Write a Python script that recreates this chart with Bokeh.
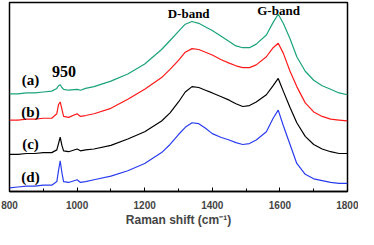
from bokeh.plotting import figure
from bokeh.models import FixedTicker, Range1d
from bokeh.core.properties import value
from bokeh.embed import file_html
from bokeh.resources import INLINE

# Raman shift (cm^-1)
shift = [800, 825, 850, 875, 900, 925, 940, 945, 950, 955, 960, 975, 1000, 1010,
         1025, 1050, 1100, 1150, 1200, 1250, 1275, 1300, 1320, 1340, 1360, 1380,
         1400, 1425, 1450, 1470, 1490, 1510, 1530, 1560, 1580, 1595, 1610, 1630,
         1650, 1675, 1700, 1725, 1750, 1775, 1800]

# intensities (arbitrary units, offset stacked)
spec_a = [108, 108, 109, 109, 110, 111, 114, 117, 118, 115, 113, 112, 113, 112,
          114, 116, 122, 130, 141, 157, 167, 177, 185, 188, 186, 182,
          178, 172, 166, 161, 159, 159, 163, 173, 187, 196, 186, 169,
          149, 133, 123, 117, 113, 109, 107]
spec_b = [79, 79, 80, 80, 81, 81, 86, 96, 99, 91, 83, 82, 86, 83,
          84, 86, 92, 102, 113, 126, 135, 145, 154, 158, 157, 154,
          151, 146, 142, 139, 137, 137, 140, 149, 159, 164, 153, 133,
          116, 98, 88, 83, 80, 79, 78]
spec_c = [41, 41, 42, 42, 43, 43, 46, 53, 60, 51, 45, 44, 47, 45,
          46, 47, 51, 58, 66, 78, 87, 99, 110, 116, 115, 112,
          109, 105, 101, 97, 94, 95, 99, 107, 117, 125, 111, 93,
          76, 61, 52, 47, 44, 42, 42]
spec_d = [4, 5, 6, 6, 7, 7, 11, 23, 34, 21, 11, 10, 13, 10,
          11, 13, 17, 23, 31, 43, 52, 63, 71, 76, 75, 70,
          64, 60, 57, 54, 52, 53, 57, 66, 81, 90, 73, 52,
          31, 19, 14, 12, 10, 9, 9]

series = [spec_a, spec_b, spec_c, spec_d]
colors = ["#1aa37a", "#ff1a1a", "#000000", "#2a3cf0"]

x_ticks = [800, 1000, 1200, 1400, 1600, 1800]
x_minor = [900, 1100, 1300, 1500, 1700]

curve_labels = ["(a)", "(b)", "(c)", "(d)"]
curve_label_y = [123, 88, 53, 16]

p = figure(width=358, height=229, output_backend="svg", toolbar_location=None,
           x_range=Range1d(800, 1800), y_range=Range1d(0, 209),
           min_border_left=9, min_border_right=11, min_border_top=2,
           min_border_bottom=0)

for s, c in zip(series, colors):
    p.line(shift, s, line_color=c, line_width=1.2)

p.text(x=[862] * 4, y=curve_label_y, text=curve_labels,
       text_font=value("Liberation Serif"), text_font_style="bold",
       text_font_size="15px", text_align="center", text_baseline="middle",
       text_color="black")
p.text(x=[961], y=[133], text=["950"],
       text_font=value("Liberation Serif"), text_font_style="bold",
       text_font_size="16px", text_align="center", text_baseline="middle")
p.text(x=[1330, 1596], y=[197, 200], text=["D-band", "G-band"],
       text_font=value("Liberation Serif"), text_font_style="bold",
       text_font_size="13px", text_align="center", text_baseline="middle")

p.grid.visible = False
p.yaxis.visible = False
p.outline_line_color = "black"
p.outline_line_width = 1.5
p.outline_line_alpha = 1.0

ax = p.xaxis[0]
ax.ticker = FixedTicker(ticks=x_ticks, minor_ticks=x_minor)
ax.axis_label = "Raman shift (cm\u207b\u00b9)"
ax.axis_label_text_font = "Liberation Sans"
ax.axis_label_text_font_style = "bold"
ax.axis_label_text_font_size = "12px"
ax.axis_label_standoff = 1
ax.major_label_text_font = "Liberation Sans"
ax.major_label_text_font_style = "bold"
ax.major_label_text_font_size = "10px"
ax.major_label_standoff = 9
ax.major_tick_in = 4
ax.major_tick_out = 0
ax.minor_tick_in = 3
ax.minor_tick_out = 0
ax.axis_line_width = 1.5
ax.axis_line_color = "black"
ax.major_tick_line_color = "black"
ax.minor_tick_line_color = "black"
p.background_fill_color = "white"
p.border_fill_color = "white"

open("out.html", "w").write(file_html(p, INLINE))
